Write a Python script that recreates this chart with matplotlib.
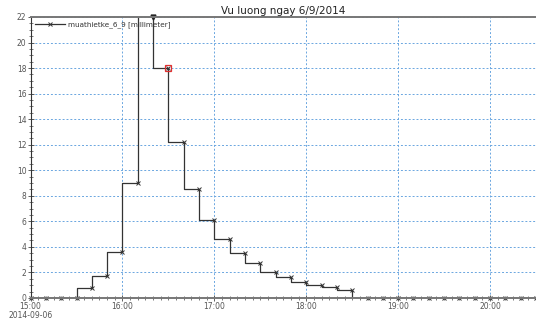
import matplotlib
matplotlib.use("Agg")
import matplotlib.pyplot as plt
import matplotlib.dates as mdates
from matplotlib.ticker import MultipleLocator, FixedFormatter
import numpy as np
import pandas as pd

# rainfall every 10 minutes, 2014-09-06 15:00 .. 20:30 (mm)
start = "2014-09-06 15:00"
n_points = 34
rain = [0, 0, 0, 0, 0.8, 1.7, 3.6, 9.0, 24.0, 18.0, 12.2, 8.5,
        6.1, 4.6, 3.5, 2.7, 2.0, 1.65, 1.25, 1.0, 0.85, 0.65,
        0, 0, 0, 0, 0, 0, 0, 0, 0, 0, 0, 0]
highlight_idx = 9  # red-boxed point
series_name = "muathietke_6_9 [millimeter]"
title = "Vu luong ngay 6/9/2014"
y_max = 22

times = pd.date_range(start, periods=n_points, freq="10min")
rain = np.array(rain)

fig = plt.figure(figsize=(5.36, 3.2), dpi=100)
ax = fig.add_axes([0.057, 0.069, 0.943, 0.878])

ax.plot(times, rain, drawstyle="steps-pre", color="#333333", lw=0.9,
        label=series_name, marker="x", ms=3, mew=0.7, markevery=[])
# markers drawn unclipped so the zero points sit on the bottom border
inside = rain <= y_max
ax.plot(times[inside], rain[inside], ls="none", color="#333333",
        marker="x", ms=3, mew=0.7, clip_on=False)

# off-scale points shown as a down arrow on the top border
over = rain > y_max
ax.plot(times[over], np.full(over.sum(), y_max), ls="none", marker="v",
        ms=3.5, color="#222222", clip_on=False)

# selected point
ax.plot(times[highlight_idx], rain[highlight_idx], ls="none", marker="s",
        ms=4.5, mfc="none", mec="#e03030", mew=0.9)

ax.set_xlim(times[0], pd.Timestamp("2014-09-06 20:30"))
ax.set_ylim(0, y_max)

ax.xaxis.set_major_locator(mdates.HourLocator())
ax.xaxis.set_minor_locator(mdates.MinuteLocator(byminute=range(0, 60, 5)))
hours = pd.date_range("2014-09-06 15:00", "2014-09-06 20:00", freq="1h")
labels = [h.strftime("%H:%M") for h in hours]
labels[0] = labels[0] + "\n" + hours[0].strftime("%Y-%m-%d")
ax.xaxis.set_major_formatter(FixedFormatter(labels))

ax.yaxis.set_major_locator(MultipleLocator(2))
ax.yaxis.set_minor_locator(MultipleLocator(0.5))

ax.tick_params(which="both", direction="inout", colors="#444444", labelsize=5.5,
               labelcolor="#555555", pad=1)
ax.tick_params(which="major", length=4, width=0.6)
ax.tick_params(which="minor", length=2.5, width=0.5)
fig.canvas.draw()
first = ax.get_xticklabels()[0]
first.set_multialignment("center")
first.set_linespacing(1.0)

ax.grid(True, which="major", color="#6aa6e0", ls=(0, (2, 2)), lw=0.7)

for s in ["top", "bottom"]:
    ax.spines[s].set_color("#777777")
    ax.spines[s].set_linewidth(1.4)
ax.spines["left"].set_color("#333333")
ax.spines["left"].set_linewidth(0.8)
ax.spines["right"].set_visible(False)

ax.set_title(title, fontsize=7.5, color="#222222", pad=2)
ax.legend(loc="upper left", frameon=False, fontsize=5.2, handlelength=4.2,
          borderaxespad=0.2, handletextpad=0.4, labelcolor="#333333")

fig.savefig("out.png", dpi=100)
